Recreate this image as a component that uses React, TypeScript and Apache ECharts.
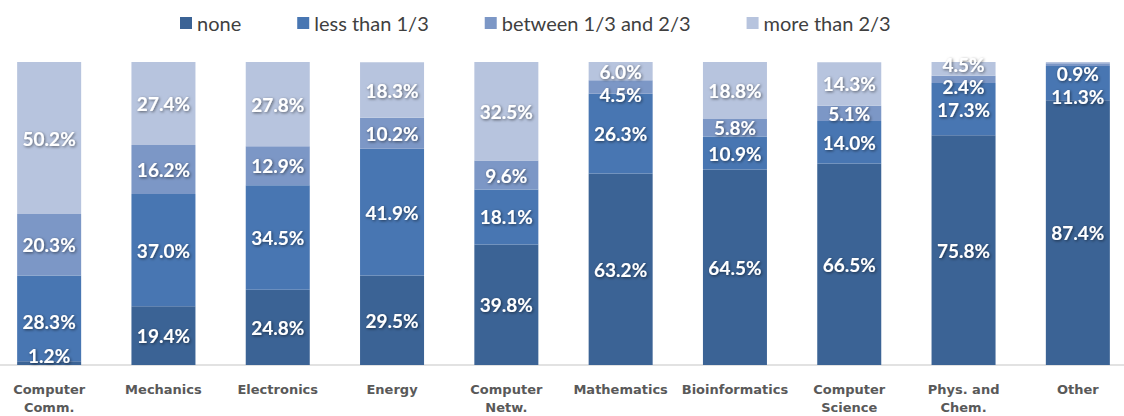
import React, { useEffect, useRef } from "react";
import * as echarts from "echarts";

const categories = [
  "Computer\nComm.",
  "Mechanics",
  "Electronics",
  "Energy",
  "Computer\nNetw.",
  "Mathematics",
  "Bioinformatics",
  "Computer\nScience",
  "Phys. and\nChem.",
  "Other",
];
const seriesNames = ["none", "less than 1/3", "between 1/3 and 2/3", "more than 2/3"];
const none = [1.2, 19.4, 24.8, 29.5, 39.8, 63.2, 64.5, 66.5, 75.8, 87.4];
const lessThanThird = [28.3, 37.0, 34.5, 41.9, 18.1, 26.3, 10.9, 14.0, 17.3, 11.3];
const betweenThirds = [20.3, 16.2, 12.9, 10.2, 9.6, 4.5, 5.8, 5.1, 2.4, 0.9];
const moreThanTwoThirds = [50.2, 27.4, 27.8, 18.3, 32.5, 6.0, 18.8, 14.3, 4.5, 0.4];

const colors = ["#3B6395", "#4876B2", "#7C97C6", "#B7C4DE"];
// label vertical nudges (style only), keyed by series index then category index
const labelNudges: Record<number, Record<number, number>> = {
  0: { 0: -8 },
  1: { 0: 3, 9: 13 },
  2: { 5: 8, 8: 7, 9: 9 },
  3: { 8: -4 },
};
const hiddenLabels: Record<number, number[]> = { 3: [9] };

export default function App() {
  const ref = useRef<HTMLDivElement>(null);
  useEffect(() => {
    if (!ref.current) return;
    const chart = echarts.init(ref.current, undefined, { renderer: "svg" });
    const all = [none, lessThanThird, betweenThirds, moreThanTwoThirds];
    const series = all.map((vals, si) => ({
      name: seriesNames[si],
      type: "bar",
      stack: "total",
      barCategoryGap: "44%",
      itemStyle: { color: colors[si] },
      label: {
        show: true,
        position: "inside",
        color: "#ffffff",
        fontFamily: "Lato",
        fontWeight: "bold",
        fontSize: 19,
        textShadowColor: "rgba(0,0,0,0.55)",
        textShadowBlur: 3,
        textShadowOffsetX: 1,
        textShadowOffsetY: 1,
        formatter: (p: any) => `${Number(p.value).toFixed(1)}%`,
      },
      data: vals.map((v, ci) => {
        const item: any = { value: v };
        const dy = labelNudges[si]?.[ci];
        if (dy) item.label = { offset: [0, dy] };
        if (hiddenLabels[si]?.includes(ci)) item.label = { show: false };
        return item;
      }),
    }));
    chart.setOption({
      animation: false,
      legend: {
        top: 8,
        left: 183,
        itemWidth: 12,
        itemHeight: 12,
        itemGap: 56,
        icon: "rect",
        textStyle: { fontFamily: "Lato", fontSize: 20, color: "#3F3F3F" },
        data: seriesNames,
      },
      grid: { left: 0, right: 0, top: 62, bottom: 45, containLabel: false },
      xAxis: {
        type: "category",
        data: categories,
        axisLine: { lineStyle: { color: "#D9D9D9", width: 1.5 } },
        axisTick: { show: false },
        axisLabel: {
          interval: 0,
          margin: 15,
          fontFamily: "DejaVu Sans",
          fontWeight: "bold",
          fontSize: 13,
          lineHeight: 18,
          color: "#595959",
        },
      },
      yAxis: { type: "value", min: 0, max: 100, show: false, splitLine: { show: false } },
      series,
    });
    return () => chart.dispose();
  }, []);
  return (
    <div
      style={{
        position: "fixed",
        left: 0,
        top: 0,
        width: 1124,
        height: 416,
        overflow: "hidden",
        background: "#fff",
      }}
    >
      <div ref={ref} style={{ position: "absolute", left: -8, top: 0, width: 1143, height: 416 }} />
    </div>
  );
}
